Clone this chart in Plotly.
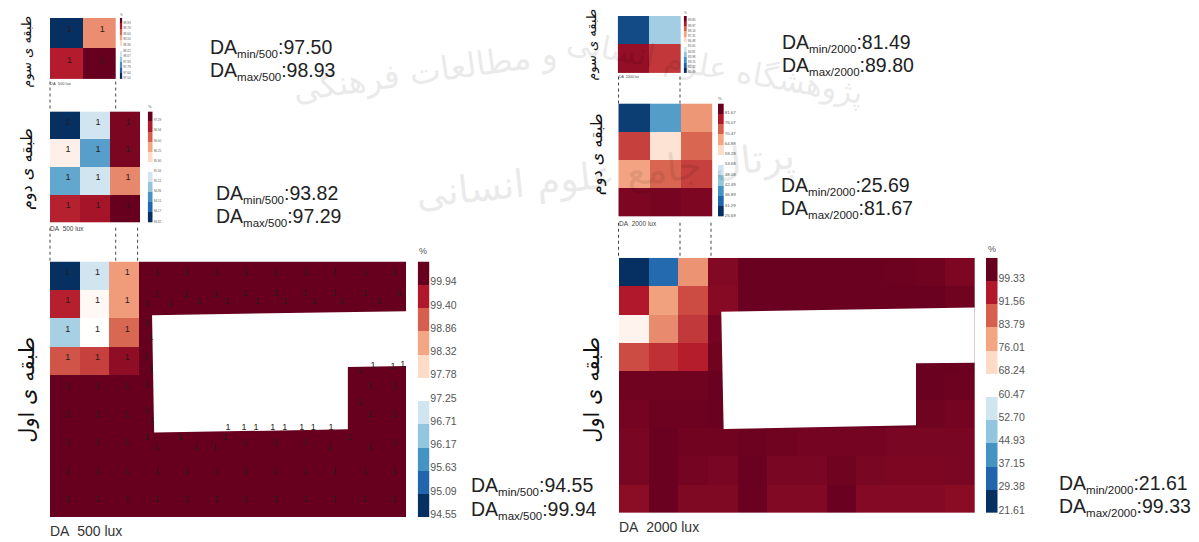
import plotly.graph_objects as go

W, H = 1199, 542
RDBU = ["#053061", "#2166ac", "#4393c3", "#92c5de", "#d1e5f0", "#ffffff",
        "#fddbc7", "#f4a582", "#d6604d", "#b2182b", "#67001f"]

# ---- DA 500 lux ----
levels_500_f3 = [97.50, 97.64, 97.79, 97.93, 98.07, 98.22, 98.36, 98.50, 98.64, 98.79, 98.93]
z_500_f3 = [[97.50, 98.55],
            [98.78, 98.93]]
levels_500_f2 = [93.82, 94.17, 94.51, 94.86, 95.21, 95.56, 95.90, 96.25, 96.60, 96.94, 97.29]
z_500_f2 = [[93.82, 95.21, 97.20],
            [95.70, 94.60, 97.20],
            [94.65, 95.21, 96.40],
            [96.90, 97.00, 97.29]]
levels_500_f1 = [94.55, 95.09, 95.63, 96.17, 96.71, 97.25, 97.78, 98.32, 98.86, 99.40, 99.94]
z_500_f1 = [[94.55, 96.71, 98.40] + [99.94] * 9,
            [99.35, 97.35, 98.40] + [99.94] * 9,
            [96.35, 97.25, 98.80] + [99.94] * 9,
            [98.95, 99.10, 99.65] + [99.94] * 9,
            [99.94] * 12, [99.94] * 12, [99.94] * 12, [99.94] * 12, [99.94] * 12]

# ---- DA 2000 lux ----
levels_2000_f3 = [81.49, 82.32, 83.15, 83.98, 84.81, 85.65, 86.48, 87.31, 88.14, 88.97, 89.80]
z_2000_f3 = [[81.90, 84.20],
             [89.30, 88.60]]
levels_2000_f2 = [25.69, 31.29, 36.89, 42.49, 48.08, 53.68, 59.28, 64.88, 70.47, 76.07, 81.67]
z_2000_f2 = [[27.0, 38.0, 66.0],
             [73.0, 58.0, 70.0],
             [65.0, 70.0, 73.0],
             [80.0, 80.5, 80.0]]
levels_2000_f1 = [21.61, 29.38, 37.15, 44.93, 52.70, 60.47, 68.24, 76.01, 83.79, 91.56, 99.33]
z_2000_f1 = [[21.61, 30.0, 78.0, 96.5, 99.0, 99.0, 99.0, 99.0, 99.0, 98.7, 98.5, 97.0],
             [91.56, 76.5, 86.0, 96.0, 99.0, 99.0, 99.0, 99.0, 99.0, 99.0, 99.0, 98.5],
             [63.0, 79.0, 88.0, 98.0, 99.0, 99.0, 99.0, 99.0, 99.0, 99.0, 99.0, 99.0],
             [86.0, 89.0, 91.0, 98.5, 99.0, 99.0, 99.0, 99.0, 99.0, 99.0, 99.0, 99.0],
             [98.5, 98.5, 98.5, 99.0, 99.0, 99.0, 99.0, 99.0, 99.0, 99.0, 99.0, 98.7],
             [98.0, 98.8, 98.8, 99.0, 99.0, 99.0, 99.0, 99.0, 99.0, 99.0, 98.4, 98.0],
             [97.5, 99.0, 98.3, 98.3, 98.7, 98.5, 98.0, 98.0, 98.0, 97.5, 97.5, 97.5],
             [97.5, 99.0, 98.0, 97.5, 99.0, 97.5, 97.5, 98.5, 97.5, 97.0, 97.0, 97.5],
             [95.6, 99.0, 96.8, 96.8, 99.0, 96.5, 96.5, 99.0, 96.3, 96.3, 96.3, 95.8]]

# Plan void of the ground floor, in grid cells
void_500_x = [3.44, 12.01, 12.01, 10.04, 10.04, 3.51]
void_500_y = [1.89, 1.75, 3.68, 3.71, 5.91, 6.02]
void_2000_x = [3.45, 12.01, 12.01, 10.02, 10.02, 3.53]
void_2000_y = [1.90, 1.75, 3.70, 3.72, 5.91, 6.04]

# Irregular "1" labels of the ground floor analysis grid, in grid cells
extra_labels_x = [3.27, 3.58, 4.06, 4.58, 5.03, 5.60, 5.97, 6.58, 6.98, 7.60, 7.91, 8.58, 8.89, 9.60, 9.84,
                  10.61, 11.10, 11.78, 12.09, 3.27, 3.24, 3.40, 3.40, 3.27, 10.46, 10.89, 11.56, 11.89,
                  10.78, 11.61, 3.27, 3.44, 10.46, 10.78, 11.61, 6.00, 6.54, 6.94, 7.51, 7.91, 8.49, 8.87,
                  9.47, 3.27, 3.58, 4.39, 4.92, 5.55, 5.89, 6.58, 7.60, 8.58, 9.42, 10.10, 10.78, 11.61]
extra_labels_y = [1.49, 1.16, 1.47, 1.16, 1.41, 1.16, 1.41, 1.12, 1.41, 1.12, 1.41, 1.12, 1.41, 1.12, 1.41,
                  1.12, 1.41, 1.12, 1.44, 2.17, 3.34, 2.70, 3.80, 4.33, 3.86, 3.66, 3.69, 3.63,
                  4.36, 4.36, 5.26, 5.61, 4.99, 5.38, 5.38, 5.85, 5.85, 5.85, 5.85, 5.85, 5.85, 5.85,
                  5.85, 6.20, 6.55, 6.20, 6.55, 6.55, 6.20, 6.39, 6.39, 6.39, 6.55, 6.20, 6.55, 6.39]

FLOOR_1 = "طبقه ی اول"
FLOOR_2 = "طبقه ی دوم"
FLOOR_3 = "طبقه ی سوم"
WATERMARK_A = "و مطالعات فرهنگی"
WATERMARK_B = "پژوهشگاه علوم انسانی"
WATERMARK_C = "پرتال جامع علوم انسانی"


def px(x):
    return x / W


def py(y):
    return 1 - y / H


colorscale = [[i / 10, c] for i, c in enumerate(RDBU)]
fig = go.Figure()
annotations, shapes = [], []
layout_axes = {}
axis_no = [0]


def new_axes(x0, x1, y0, y1, xr, yr, **yextra):
    axis_no[0] += 1
    n = axis_no[0]
    suffix = "" if n == 1 else str(n)
    layout_axes["xaxis" + suffix] = dict(domain=[px(x0), px(x1)], range=xr, visible=False,
                                         anchor="y" + suffix, fixedrange=True)
    ya = dict(domain=[py(y1), py(y0)], range=yr, anchor="x" + suffix, fixedrange=True)
    ya.update(yextra if yextra else dict(visible=False))
    layout_axes["yaxis" + suffix] = ya
    return "x" + suffix, "y" + suffix


def panel(z, levels, rect, bar, tick_size, ones=None, void=None, one_size=9):
    rows, cols = len(z), len(z[0])
    xa, ya = new_axes(rect[0], rect[1], rect[2], rect[3], [0, cols], [rows, 0])
    fig.add_trace(go.Heatmap(z=z, x=[c + 0.5 for c in range(cols)], y=[r + 0.5 for r in range(rows)],
                             xaxis=xa, yaxis=ya, colorscale=colorscale, zmin=levels[0], zmax=levels[-1],
                             showscale=False, hoverinfo="skip"))
    if void:
        fig.add_trace(go.Scatter(x=void[0], y=void[1], fill="toself", fillcolor="white", mode="lines",
                                 line=dict(width=0, color="white"), xaxis=xa, yaxis=ya,
                                 showlegend=False, hoverinfo="skip"))
    if ones:
        dx = 3 / ((rect[1] - rect[0]) / cols)
        dy = 3 / ((rect[3] - rect[2]) / rows)
        lx = [c + 0.5 + dx for r, c in ones[0]]
        ly = [r + 0.5 - dy for r, c in ones[0]]
        lx += ones[1]
        ly += ones[2]
        fig.add_trace(go.Scatter(x=lx, y=ly, mode="text", text=["1"] * len(lx),
                                 textfont=dict(size=one_size, color="#2a1a1a", family="Liberation Sans"),
                                 xaxis=xa, yaxis=ya, cliponaxis=False, showlegend=False, hoverinfo="skip"))
    # stepped legend, drawn as a one-column heatmap of the legend levels
    xb, yb = new_axes(bar[0], bar[1], rect[2], rect[3], [0, 1], [0, 11],
                      side="right", showgrid=False, zeroline=False, showline=False, ticks="",
                      tickmode="array", tickvals=[i + 0.13 for i in range(11)],
                      ticktext=[f"{v:.2f}" for v in levels],
                      tickfont=dict(size=tick_size, color="#555555", family="Liberation Sans"))
    fig.add_trace(go.Heatmap(z=[[v] for v in levels], x=[0.5], y=[i + 0.5 for i in range(11)],
                             xaxis=xb, yaxis=yb, colorscale=colorscale, zmin=levels[0], zmax=levels[-1],
                             showscale=False, hoverinfo="skip"))


def text(x, y, s, size, color="#222222", anchor="left", angle=0, family="Liberation Sans", opacity=1):
    annotations.append(dict(x=px(x), y=py(y), xref="paper", yref="paper", text=s, showarrow=False,
                            xanchor=anchor, yanchor="middle", textangle=angle, opacity=opacity,
                            borderpad=0, borderwidth=0,
                            font=dict(size=size, color=color, family=family)))


def stat(x, y, lo_label, lo, hi_label, hi, gap=23):
    sub = '<sub><span style="font-size:11.5px">{}</span></sub>'
    text(x, y, "DA" + sub.format(lo_label) + ":" + lo, 19.5)
    text(x, y + gap, "DA" + sub.format(hi_label) + ":" + hi, 19.5)


def dashed(x, y0, y1):
    shapes.append(dict(type="line", xref="paper", yref="paper", x0=px(x), x1=px(x), y0=py(y0), y1=py(y1),
                       line=dict(color="#444444", width=1, dash="dot")))


ones_small = [(r, c) for r in range(2) for c in range(2)]
ones_mid = [(r, c) for r in range(4) for c in range(3)]
ones_big = ([(0, c) for c in range(12)]
            + [(r, c) for r in range(1, 7) for c in range(3)]
            + [(r, c) for r in (7, 8) for c in range(12)])

panel(z_500_f3, levels_500_f3, (50, 115.7, 18, 79.5), (119.7, 122.2), 3, ones=(ones_small, [], []))
panel(z_500_f2, levels_500_f2, (50, 140, 112, 224), (147.7, 152.7), 3, ones=(ones_mid, [], []))
panel(z_500_f1, levels_500_f1, (50, 406, 263, 520), (417.7, 429.3), 10.5,
      ones=(ones_big, extra_labels_x, extra_labels_y), void=(void_500_x, void_500_y))
panel(z_2000_f3, levels_2000_f3, (617.7, 681, 16, 73.5), (683.7, 687), 3)
panel(z_2000_f2, levels_2000_f2, (618.3, 712.7, 104, 218), (718, 723.7), 4.4)
panel(z_2000_f1, levels_2000_f1, (619, 974.7, 259.3, 515.7), (986, 997.5), 10.5,
      void=(void_2000_x, void_2000_y))

# connecting dashed lines
for x in (50, 115.7):
    dashed(x, 82, 112)
for x in (50, 115.7, 137.6):
    dashed(x, 229, 263)
for x in (618.5, 680):
    dashed(x, 77, 104)
for x in (618.5, 680, 711):
    dashed(x, 224, 259)

# captions
text(50, 534, "DA\u00a0\u00a0500 lux", 14, "#333333")
text(50, 230, "DA\u00a0\u00a0500 lux", 6.5, "#444444")
text(50, 84, "DA\u00a0\u00a0500 lux", 4, "#444444")
text(619, 530, "DA\u00a0\u00a02000 lux", 14, "#333333")
text(618.5, 224.5, "DA\u00a0\u00a02000 lux", 6.5, "#444444")
text(619, 77, "DA\u00a0\u00a02000 lux", 3.5, "#444444")

# percent markers
text(423, 252, "%", 9, "#555555", "center")
text(991.5, 250, "%", 9, "#555555", "center")
text(149.5, 107, "%", 4, "#555555", "center")
text(720, 99, "%", 4, "#555555", "center")
text(121, 15, "%", 3, "#555555", "center")
text(685, 13, "%", 3, "#555555", "center")

# statistics
stat(210, 48, "min/500", "97.50", "max/500", "98.93")
stat(216, 195, "min/500", "93.82", "max/500", "97.29")
stat(471, 489, "min/500", "94.55", "max/500", "99.94", 24)
stat(782, 43, "min/2000", "81.49", "max/2000", "89.80")
stat(781, 187, "min/2000", "25.69", "max/2000", "81.67")
stat(1059, 487, "min/2000", "21.61", "max/2000", "99.33")

# floor names
AR = "DejaVu Sans"
text(27, 52, FLOOR_3, 13, "#111111", "center", -90, AR)
text(27, 170, FLOOR_2, 16, "#111111", "center", -90, AR)
text(27, 392, FLOOR_1, 21, "#111111", "center", -90, AR)
text(592, 45, FLOOR_3, 13, "#111111", "center", -90, AR)
text(597, 155, FLOOR_2, 16, "#111111", "center", -90, AR)
text(592, 392, FLOOR_1, 21, "#111111", "center", -90, AR)

# background watermark
text(425, 72, WATERMARK_A, 33, "#000000", "center", -8, AR, 0.08)
text(715, 68, WATERMARK_B, 31, "#000000", "center", 10, AR, 0.08)
text(605, 176, WATERMARK_C, 38, "#000000", "center", -6, AR, 0.08)

fig.update_layout(width=W, height=H, margin=dict(l=0, r=0, t=0, b=0), autosize=False,
                  paper_bgcolor="white", plot_bgcolor="white", showlegend=False,
                  annotations=annotations, shapes=shapes, **layout_axes)
fig.write_html("out.html", config=dict(displayModeBar=False),
               post_script="document.body.style.margin='0';document.body.style.overflow='hidden';")
